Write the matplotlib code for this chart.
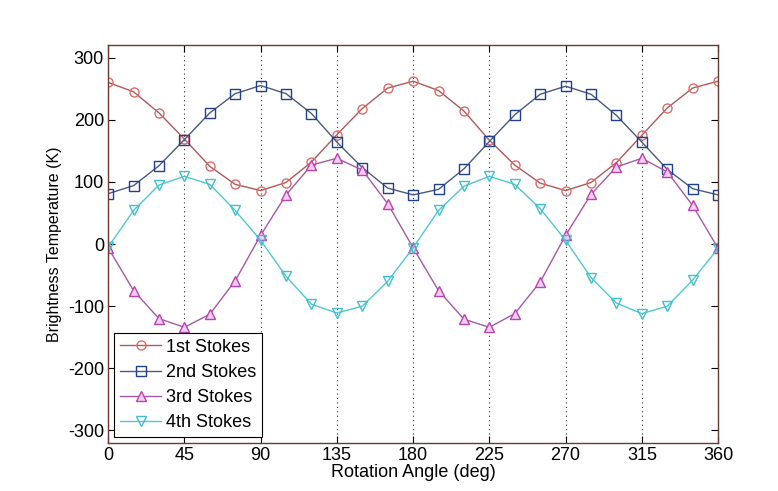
import numpy as np
import matplotlib
matplotlib.use("Agg")
from matplotlib import pyplot as plt
from matplotlib.ticker import MultipleLocator

plt.rcParams['font.family'] = ['Liberation Sans', 'DejaVu Sans']
plt.rcParams['axes.unicode_minus'] = False

angle = list(range(0, 361, 15))

stokes_1 = [260, 245, 211, 169, 125, 96, 86, 99, 132, 176, 218, 251, 262,
            247, 214, 167, 127, 98, 86, 99, 131, 175, 219, 251, 262]
stokes_2 = [81, 94, 126, 168, 211, 242, 255, 242, 210, 164, 123, 90, 79,
            88, 121, 165, 208, 241, 254, 241, 207, 164, 120, 89, 79]
stokes_3 = [-6, -75, -120, -134, -113, -59, 14, 79, 127, 138, 119, 65, -6,
            -75, -121, -134, -112, -61, 14, 80, 124, 138, 116, 62, -7]
stokes_4 = [-5, 54, 95, 109, 96, 54, 6, -52, -97, -111, -100, -60, -6,
            54, 93, 109, 96, 57, 6, -54, -95, -112, -100, -58, -7]

series = [
	("1st Stokes", stokes_1, "o", "#b05a5a", "#e06a6a", "none"),
	("2nd Stokes", stokes_2, "s", "#4a5a80", "#1f3f8f", "none"),
	("3rd Stokes", stokes_3, "^", "#a858a8", "#c040b0", "#f0d0f0"),
	("4th Stokes", stokes_4, "v", "#50c8d0", "#40c0d0", "none"),
]

fig = plt.figure(figsize=(7.78, 4.91), dpi=100)
ax = fig.add_axes([0.139, 0.098, 0.784, 0.81])

for label, vals, mk, lc, mc, fc in series:
	ax.plot(angle, vals, color=lc, marker=mk, markersize=6.5,
	        markeredgecolor=mc, markerfacecolor=fc, markeredgewidth=1.0,
	        linewidth=1.0, label=label)

ax.set_xlim(0, 360)
ax.set_ylim(-320, 320)
ax.xaxis.set_major_locator(MultipleLocator(45))
ax.yaxis.set_major_locator(MultipleLocator(100))
ax.grid(True, axis='x', color="#333333", linestyle=(0, (1, 3)), linewidth=0.8)
ax.tick_params(direction='in', top=True, right=True, length=5, labelsize=13, pad=3)
for s in ax.spines.values():
	s.set_color("#6a3a30")
	s.set_linewidth(1.0)

ax.set_xlabel("Rotation Angle (deg)", fontsize=13, labelpad=0)
ax.set_ylabel("Brightness Temperature (K)", fontsize=11.5, labelpad=4)

leg = ax.legend(loc='lower left', fontsize=13, fancybox=False,
                borderaxespad=0.35, handlelength=2.3, handletextpad=0.25,
                labelspacing=0.45, borderpad=0.3)
leg.get_frame().set_edgecolor("black")
leg.get_frame().set_linewidth(0.8)
leg.get_frame().set_alpha(1)

fig.savefig("out.png", dpi=100)
